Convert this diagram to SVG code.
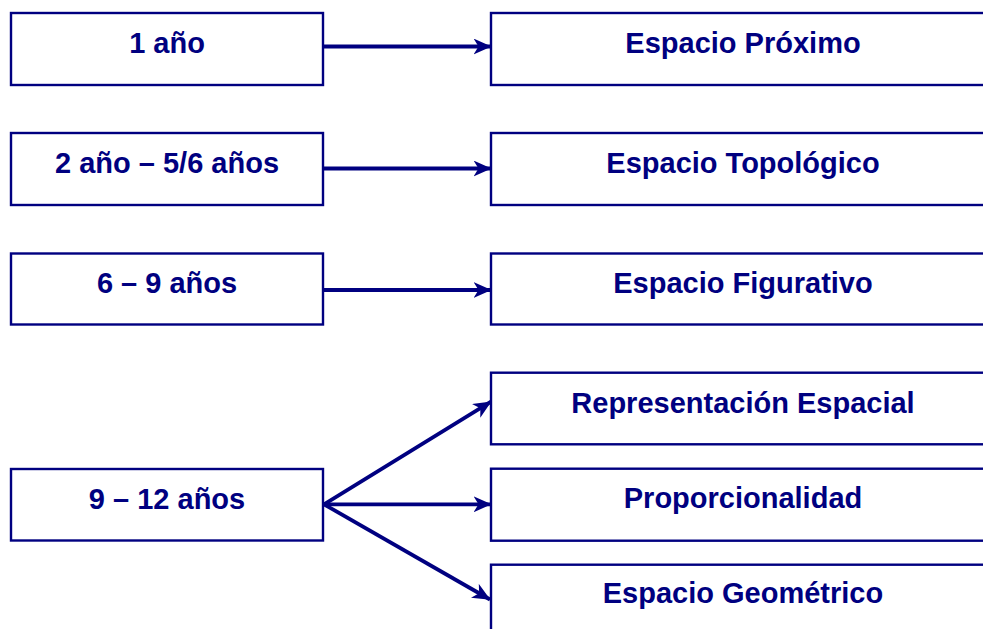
<svg xmlns="http://www.w3.org/2000/svg" width="983" height="629" viewBox="0 0 983 629">
<style>
.box{fill:#fff;stroke:#000080;stroke-width:2.4}
.lbl{font-family:"Liberation Sans",Arial,sans-serif;font-weight:bold;font-size:29px;fill:#000080;text-anchor:middle}
.conn{stroke:#000080;stroke-width:3.8;fill:none}
</style>
<defs>
<marker id="ah" viewBox="0 0 18 16" refX="17.5" refY="8" markerWidth="18" markerHeight="16" markerUnits="userSpaceOnUse" orient="auto">
<path d="M0,0 L18,8 L0,16 L5,8 Z" fill="#000080"/>
</marker>
</defs>
<rect width="983" height="629" fill="#fff"/>
<g id="connectors">
<line class="conn" x1="323" y1="46.5" x2="491" y2="46.5" marker-end="url(#ah)"/>
<line class="conn" x1="324" y1="168.5" x2="491" y2="168.5" marker-end="url(#ah)"/>
<line class="conn" x1="323" y1="290" x2="491" y2="290" marker-end="url(#ah)"/>
<line class="conn" x1="324" y1="504.3" x2="491" y2="401.7" marker-end="url(#ah)"/>
<line class="conn" x1="324" y1="504.3" x2="491" y2="504.3" marker-end="url(#ah)"/>
<line class="conn" x1="324" y1="504.3" x2="490" y2="599.5" marker-end="url(#ah)"/>
</g>
<g id="n-1ano">
<rect class="box" x="11" y="13" width="312" height="72"/>
<text class="lbl" x="167" y="53">1 año</text>
</g>
<g id="n-espacio-proximo">
<rect class="box" x="491" y="13" width="504" height="72"/>
<text class="lbl" x="743" y="53">Espacio Próximo</text>
</g>
<g id="n-2ano">
<rect class="box" x="11" y="133" width="312" height="72"/>
<text class="lbl" x="167" y="172.5">2 año – 5/6 años</text>
</g>
<g id="n-espacio-topologico">
<rect class="box" x="491" y="133" width="504" height="72"/>
<text class="lbl" x="743" y="172.5">Espacio Topológico</text>
</g>
<g id="n-6-9">
<rect class="box" x="11" y="253.5" width="312" height="71"/>
<text class="lbl" x="167" y="293">6 – 9 años</text>
</g>
<g id="n-espacio-figurativo">
<rect class="box" x="491" y="253.5" width="504" height="71"/>
<text class="lbl" x="743" y="293">Espacio Figurativo</text>
</g>
<g id="n-9-12">
<rect class="box" x="11" y="469" width="312" height="71.5"/>
<text class="lbl" x="167" y="508.5">9 – 12 años</text>
</g>
<g id="n-representacion">
<rect class="box" x="491" y="372.7" width="504" height="71.6"/>
<text class="lbl" x="743" y="413">Representación Espacial</text>
</g>
<g id="n-proporcionalidad">
<rect class="box" x="491" y="468.7" width="504" height="72"/>
<text class="lbl" x="743" y="508">Proporcionalidad</text>
</g>
<g id="n-espacio-geometrico">
<rect class="box" x="491" y="564.7" width="504" height="72"/>
<text class="lbl" x="743" y="603">Espacio Geométrico</text>
</g>
</svg>
